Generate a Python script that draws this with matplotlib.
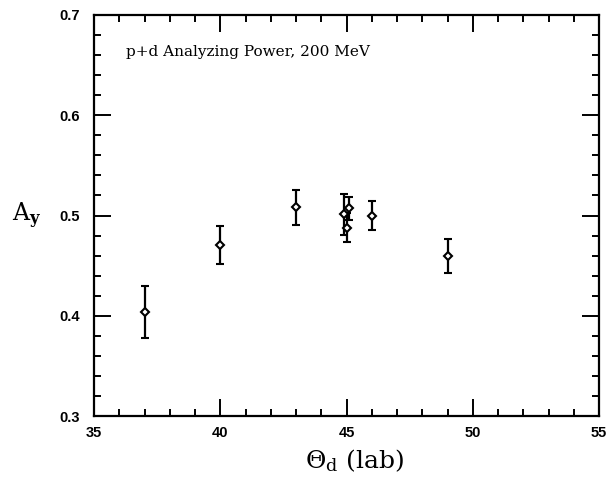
import matplotlib
matplotlib.use("Agg")
import matplotlib.pyplot as plt
from matplotlib.ticker import MultipleLocator

plt.rcParams["mathtext.fontset"] = "dejavuserif"

# p+d analyzing power at 200 MeV
theta = [37.0, 40.0, 43.0, 44.9, 45.0, 45.1, 46.0, 49.0]
ay = [0.404, 0.471, 0.508, 0.501, 0.488, 0.507, 0.500, 0.460]
ay_err = [0.026, 0.019, 0.017, 0.020, 0.014, 0.011, 0.014, 0.017]

fig = plt.figure(figsize=(6.09, 4.79), dpi=100)
ax = fig.add_axes([0.1544, 0.1315, 0.8292, 0.8372])

ax.errorbar(theta, ay, yerr=ay_err, fmt="D", color="black", ms=4.5,
            mfc="white", mec="black", mew=1.5, elinewidth=1.6,
            capsize=3, capthick=1.6)

ax.set_xlim(35, 55)
ax.set_ylim(0.3, 0.7)
ax.xaxis.set_major_locator(MultipleLocator(5))
ax.xaxis.set_minor_locator(MultipleLocator(1))
ax.yaxis.set_major_locator(MultipleLocator(0.1))
ax.yaxis.set_minor_locator(MultipleLocator(0.02))
ax.tick_params(which="both", direction="in", top=True, right=True, width=1.4)
ax.tick_params(which="major", length=12.5)
ax.tick_params(which="minor", length=5)
for s in ax.spines.values():
    s.set_linewidth(1.6)

for lab in ax.get_xticklabels() + ax.get_yticklabels():
    lab.set_fontweight("bold")
    lab.set_fontsize(10.5)
    lab.set_family("Liberation Sans")
ax.tick_params(axis="y", pad=10)
ax.tick_params(axis="x", pad=7)

ax.text(0.063, 0.908, "p+d Analyzing Power, 200 MeV", transform=ax.transAxes,
        family="DejaVu Serif", fontsize=11, va="center")
ax.set_xlabel(r"$\Theta_\mathrm{d}$ (lab)", family="DejaVu Serif", fontsize=18,
              va="center")
ax.xaxis.set_label_coords(0.515, -0.11)
ax.set_ylabel(r"A$_\mathbf{y}$", family="DejaVu Serif", fontsize=17,
              rotation=0, va="center")
ax.yaxis.set_label_coords(-0.133, 0.5)

fig.savefig("out.png", dpi=100)
